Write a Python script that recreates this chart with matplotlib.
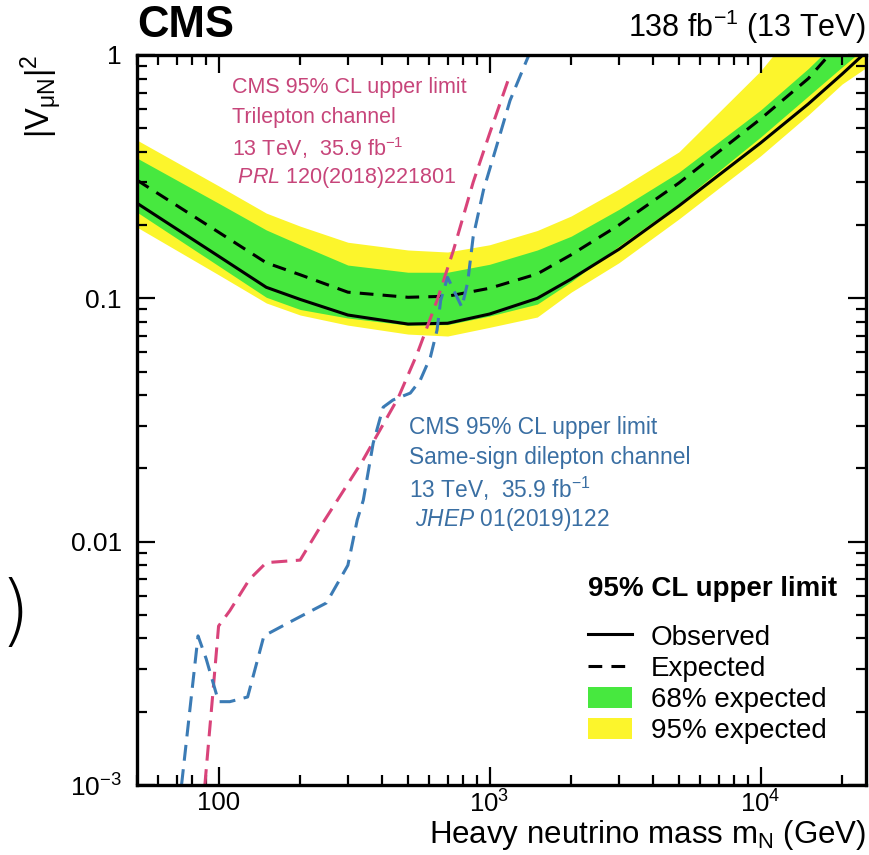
import matplotlib
matplotlib.use("Agg")
import matplotlib.pyplot as plt
from matplotlib.lines import Line2D
from matplotlib.patches import Patch
from matplotlib.ticker import FixedLocator, FixedFormatter, LogLocator, NullFormatter

plt.rcParams['font.family'] = ['Liberation Sans', 'DejaVu Sans']
plt.rcParams['mathtext.fontset'] = 'custom'
plt.rcParams['mathtext.rm'] = 'Liberation Sans'
plt.rcParams['mathtext.it'] = 'Liberation Sans:italic'
plt.rcParams['mathtext.bf'] = 'Liberation Sans:bold'

# heavy neutrino mass points (GeV)
mass = [50, 100, 150, 200, 300, 500, 700, 1000, 1500, 2000, 3000, 5000, 10000, 15000, 20000, 25000]
observed = [0.246, 0.149, 0.111, 0.099, 0.0854, 0.0784, 0.079, 0.0862, 0.100, 0.120, 0.159, 0.240, 0.435, 0.629, 0.835, 1.05]
expected = [0.306, 0.187, 0.140, 0.125, 0.106, 0.101, 0.102, 0.110, 0.126, 0.151, 0.200, 0.298, 0.546, 0.80, 1.15, 1.5]
exp_68_up = [0.377, 0.246, 0.191, 0.166, 0.137, 0.128, 0.128, 0.138, 0.158, 0.180, 0.232, 0.330, 0.594, 0.88, 1.2, 1.5]
exp_68_dn = [0.226, 0.136, 0.101, 0.090, 0.083, 0.0776, 0.078, 0.0846, 0.0947, 0.117, 0.164, 0.246, 0.46, 0.678, 0.893, 1.1]
exp_95_up = [0.447, 0.29, 0.224, 0.198, 0.170, 0.158, 0.155, 0.166, 0.190, 0.218, 0.281, 0.400, 0.86, 1.5, 2.2, 3.0]
exp_95_dn = [0.196, 0.125, 0.0957, 0.0854, 0.0776, 0.0713, 0.070, 0.076, 0.0838, 0.106, 0.140, 0.212, 0.385, 0.567, 0.76, 0.90]

# previous CMS results (35.9 fb-1)
tri_mass = [89, 95, 100, 110, 130, 150, 200, 235, 340, 460, 540, 640, 735, 870, 1000, 1190]
tri_limit = [1.0e-3, 2.3e-3, 4.5e-3, 5.2e-3, 7.0e-3, 8.2e-3, 8.4e-3, 0.0113, 0.0215, 0.039, 0.059, 0.098, 0.157, 0.30, 0.475, 0.83]
ss_mass = [73, 84, 90, 100, 110, 128, 147, 185, 250, 300, 325, 342, 372, 405, 440, 510, 555, 605, 640, 660, 700, 790, 830, 870, 950, 1070, 1190, 1370, 1450]
ss_limit = [1.0e-3, 4.1e-3, 3.3e-3, 2.2e-3, 2.2e-3, 2.3e-3, 4.1e-3, 4.7e-3, 5.6e-3, 8.0e-3, 0.0123, 0.0148, 0.0254, 0.0357, 0.0382,
            0.0408, 0.0461, 0.0574, 0.074, 0.098, 0.122, 0.092, 0.116, 0.179, 0.279, 0.435, 0.65, 0.95, 1.1]

green = '#47e83f'
yellow = '#fcf52c'
pink = '#d9437a'
pink_txt = '#c7457a'
blue = '#3b7bb5'
blue_txt = '#3a6fa3'

fig = plt.figure(figsize=(8.69, 8.55), dpi=100)
ax = fig.add_axes([137 / 869, 70 / 855, 729 / 869, 730 / 855])

ax.fill_between(mass, exp_95_dn, exp_95_up, color=yellow, lw=0)
ax.fill_between(mass, exp_68_dn, exp_68_up, color=green, lw=0)
ax.plot(mass, expected, color='black', lw=2.2, dashes=(4.5, 3))
ax.plot(mass, observed, color='black', lw=2.2)
ax.plot(tri_mass, tri_limit, color=pink, lw=2.2, dashes=(5.2, 2.8))
ax.plot(ss_mass, ss_limit, color=blue, lw=2.2, dashes=(5.2, 2.8))

ax.set_xscale('log')
ax.set_yscale('log')
ax.set_xlim(50, 24500)
ax.set_ylim(1e-3, 1)

ax.xaxis.set_major_locator(FixedLocator([100, 1000, 10000]))
ax.xaxis.set_major_formatter(FixedFormatter(['100', '$10^3$', '$10^4$']))
ax.xaxis.set_minor_locator(LogLocator(base=10, subs=range(2, 10)))
ax.xaxis.set_minor_formatter(NullFormatter())
ax.yaxis.set_major_locator(FixedLocator([1e-3, 1e-2, 1e-1, 1]))
ax.yaxis.set_major_formatter(FixedFormatter(['$10^{-3}$', '0.01', '0.1', '1']))
ax.yaxis.set_minor_locator(LogLocator(base=10, subs=range(2, 10)))
ax.yaxis.set_minor_formatter(NullFormatter())

ax.tick_params(which='both', direction='in', top=True, right=True, labelsize=19, width=1.6)
ax.tick_params(which='major', length=13)
ax.tick_params(which='minor', length=7)
ax.tick_params(axis='y', pad=11)
ax.tick_params(axis='x', pad=4, labelsize=18.5)
for s in ax.spines.values():
    s.set_linewidth(2.4)

ax.set_xlabel('Heavy neutrino mass m$_\\mathrm{N}$ (GeV)', fontsize=22.5, loc='right', labelpad=0.5)
ax.set_ylabel('|V$_{\\mathrm{μN}}$|$^2$', fontsize=23.5, loc='top', labelpad=4)

ax.text(0.0, 1.012, 'CMS', transform=ax.transAxes, fontsize=31.5, fontweight='bold', ha='left', va='bottom')
ax.text(1.0, 1.012, '138 fb$^{-1}$ (13 TeV)', transform=ax.transAxes, fontsize=22, ha='right', va='bottom')

pink_lines = ['CMS 95% CL upper limit', 'Trilepton channel', '13 TeV,  35.9 fb$^{-1}$', ' $\\mathit{PRL}$ 120(2018)221801']
for i, t in enumerate(pink_lines):
    ax.text(0.130, 0.955 - 0.041 * i, t, transform=ax.transAxes, fontsize=15.5, color=pink_txt, ha='left', va='center')

blue_lines = ['CMS 95% CL upper limit', 'Same-sign dilepton channel', '13 TeV,  35.9 fb$^{-1}$', ' $\\mathit{JHEP}$ 01(2019)122']
for i, t in enumerate(blue_lines):
    ax.text(0.373, 0.490 - 0.042 * i, t, transform=ax.transAxes, fontsize=16.4, color=blue_txt, ha='left', va='center')

handles = [Line2D([], [], color='black', lw=2.2),
           Line2D([], [], color='black', lw=2.2, dashes=(4.5, 3)),
           Patch(facecolor=green, lw=0),
           Patch(facecolor=yellow, lw=0)]
labels = ['Observed', 'Expected', '68% expected', '95% expected']
leg = ax.legend(handles, labels, loc='lower left', bbox_to_anchor=(0.592, 0.029), frameon=False,
                fontsize=20, title='95% CL upper limit', title_fontproperties={'weight': 'bold', 'size': 20},
                alignment='left', handlelength=1.6, handleheight=0.8, handletextpad=0.65, labelspacing=0.18,
                borderpad=0.2)
leg._legend_box.sep = 16

fig.text(0.0, (855 - 615) / 855, ')', fontsize=56, ha='left', va='center', family='DejaVu Sans', fontweight='light')

fig.savefig('out.png', dpi=100)
